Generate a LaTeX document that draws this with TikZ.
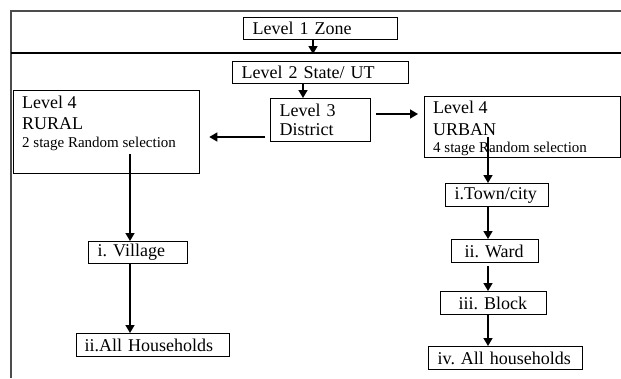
\documentclass[tikz,border=0pt]{standalone}
\usepackage{fontspec}
\setmainfont{Liberation Serif}
\usetikzlibrary{arrows.meta}
\newcommand{\bigfs}{\fontsize{18bp}{21bp}\selectfont\frenchspacing}
\newcommand{\smallfs}{\fontsize{15bp}{18bp}\selectfont\frenchspacing}
\tikzset{
  bx/.style={draw, line width=1.3bp, anchor=north west, align=left, inner ysep=0pt, font=\bigfs},
  txt/.style={anchor=base west, inner sep=0pt, font=\bigfs},
  stxt/.style={anchor=base west, inner sep=0pt, font=\smallfs},
  arr/.style={line width=1.5bp, -{Triangle[length=8bp,width=9bp]}},
  frame/.style={line width=1.8bp, gray!60!black},
}
\begin{document}
\begin{tikzpicture}[x=1bp,y=-1bp]
\useasboundingbox (0,0) rectangle (621,378);
% frame
\coordinate (ftl) at (11,11);
\coordinate (ftr) at (621,11);
\coordinate (fbl) at (11,378);
\coordinate (hll) at (11,53);
\coordinate (hlr) at (621,53);
\draw[frame] (ftr) -- (ftl) -- (fbl);
\draw[line width=1.3bp] (hll) -- (hlr);
% boxes
\node[bx, minimum width=154bp, minimum height=22bp, text width=136bp, inner xsep=9bp] (l1) at (243,17) {\mbox{Level 1 Zone}};
\node[bx, minimum width=176bp, minimum height=22bp, text width=158bp, inner xsep=9bp] (l2) at (232,61) {\mbox{Level 2 State/ UT}};
\node[bx, minimum width=100bp, minimum height=43bp, text width=82bp, inner xsep=9bp] (l3) at (270,98) {Level 3\\[-2bp]District};
\node[draw, line width=1.3bp, anchor=north west, minimum width=186bp, minimum height=83bp, inner sep=0pt] (rural) at (13,90) {};
\node[txt] (r1) at (22,108) {Level 4};
\node[txt] (r2) at (22,129) {RURAL};
\node[stxt] (r3) at (22,147) {2 stage Random selection};
\node[draw, line width=1.3bp, anchor=north west, minimum width=196bp, minimum height=61bp, inner sep=0pt] (urban) at (424,96) {};
\node[txt] (u1) at (433,113) {Level 4};
\node[txt] (u2) at (433,135) {URBAN};
\node[stxt] (u3) at (433,152) {4 stage Random selection};
\node[bx, minimum width=103bp, minimum height=23bp, text width=85bp, inner xsep=9bp] (town) at (445,183) {\mbox{i.Town/city}};
\node[bx, minimum width=87bp, minimum height=23bp, text width=61bp, inner xsep=13bp] (ward) at (451,239) {\mbox{ii. Ward}};
\node[bx, minimum width=106bp, minimum height=23bp, text width=70bp, inner xsep=18bp] (block) at (440,291) {\mbox{iii. Block}};
\node[bx, minimum width=154bp, minimum height=23bp, text width=136bp, inner xsep=9bp] (iv) at (428,346) {\mbox{iv. All households}};
\node[bx, minimum width=99bp, minimum height=22bp, text width=81bp, inner xsep=9bp] (vil) at (88,241) {\mbox{i. Village}};
\node[bx, minimum width=153bp, minimum height=23bp, text width=137bp, inner xsep=8bp] (hh) at (76,333) {\mbox{ii.All Households}};
% arrow helper coordinates
\coordinate (a1) at (313,54);
\coordinate (a2) at (303,0);
\coordinate (a3) at (0,137);
\coordinate (a4) at (0,114);
\coordinate (rs) at (130,154);
\coordinate (us) at (488,137);
% arrows
\draw[arr] (l1.south -| a1) -- (a1);
\draw[arr] (l2.south -| a2) -- (l3.north -| a2);
\draw[arr, shorten <=5bp, shorten >=9bp] (l3.west |- a3) -- (rural.east |- a3);
\draw[arr, shorten <=5bp, shorten >=6bp] (l3.east |- a4) -- (urban.west |- a4);
\draw[arr] (rs) -- (vil.north -| rs);
\draw[arr] (vil.south -| rs) -- (hh.north -| rs);
\draw[arr] (us) -- (town.north -| us);
\draw[arr] (town.south -| us) -- (ward.north -| us);
\draw[arr, shorten <=3bp] (ward.south -| us) -- (block.north -| us);
\draw[arr] (block.south -| us) -- (iv.north -| us);
\end{tikzpicture}
\end{document}
